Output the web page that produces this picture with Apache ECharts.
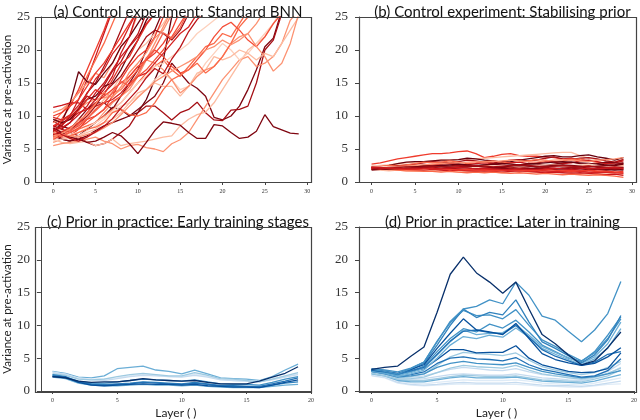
<!DOCTYPE html>
<html>
<head>
<meta charset="utf-8">
<script src="https://cdn.jsdelivr.net/npm/echarts@6/dist/echarts.min.js"></script>
<style>
  html, body { margin: 0; padding: 0; background: #fff; }
  #chart { width: 640px; height: 420px; }
</style>
</head>
<body>
<div id="chart"></div>
<script>
// tick labels
var ticksLong = [0, 5, 10, 15, 20, 25, 30];
var ticksShort = [0, 5, 10, 15, 20];
var ticksY = [0, 5, 10, 15, 20, 25];

var titles = [
    '(a) Control experiment: Standard BNN',
    '(b) Control experiment: Stabilising prior',
    '(c) Prior in practice: Early training stages',
    '(d) Prior in practice: Later in training'
];

// (a) standard BNN, one list per run, layer 0.. (stops once off the top)
var a01 = [8.0,9.5,11.5,14.0,17.0,20.0,23.0,26.5];
var a02 = [7.5,8.5,10.0,12.5,15.5,19.0,22.5,26.0];
var a03 = [9.0,10.5,12.0,13.5,16.0,18.5,21.0,24.0,27.0];
var a04 = [7.0,8.0,9.0,11.0,13.5,15.0,17.5,20.0,23.0,26.0];
var a05 = [10.5,11.0,12.0,13.5,15.0,16.5,15.8,18.0,20.5,22.0,25.5];
var a06 = [7.5,9.0,12.0,16.7,15.2,14.8,16.5,18.0,20.5,22.0,24.0,26.0];
var a07 = [11.3,11.6,12.0,12.0,11.0,12.5,14.0,16.0,19.5,22.0,26.0];
var a08 = [9.2,8.5,8.0,9.5,11.0,12.0,12.0,11.0,13.0,15.0,17.0,20.0,23.0,26.0];
var a09 = [8.0,7.5,8.0,9.0,10.0,11.0,12.5,14.0,16.0,18.0,20.0,21.0,22.5,24.0,26.0];
var a10 = [7.0,6.8,7.0,8.0,9.5,10.0,11.0,13.0,15.5,17.5,19.0,20.0,22.0,25.0,27.0];
var a11 = [6.0,6.5,6.8,7.5,8.0,9.0,10.5,12.0,13.0,14.0,16.0,18.5,21.0,23.5,26.0];
var a12 = [7.5,6.5,6.2,7.0,8.0,9.0,10.0,11.3,11.0,10.0,10.5,12.5,15.5,18.5,25.0,27.0];
var a13 = [7.0,6.5,6.2,6.5,7.0,7.8,8.5,9.0,9.5,10.0,11.0,12.0,13.0,15.0,18.0,16.5,15.0,14.2,13.0,9.8,9.4,10.0,11.5,14.0,17.0,20.5,21.8,26.0];
var a14 = [8.5,8.0,7.5,7.0,6.0,5.5,5.8,6.5,7.5,8.5,10.5,11.5,11.5,10.5,9.4,10.5,11.0,12.1,10.5,9.4,9.3,10.9,11.0,11.5,15.0,20.0,21.5,25.5];
var a15 = [6.5,6.0,5.8,6.0,6.2,5.5,5.8,6.5,5.5,5.8,6.0,6.2,6.5,6.8,7.0,8.5,9.5,10.2,10.6,12.0,14.0,16.0,18.0,20.0,21.0,22.0,24.0,26.0];
var a16 = [5.5,5.8,6.0,6.2,6.5,6.8,6.2,5.8,5.0,5.5,5.7,5.2,5.0,4.6,5.8,6.4,7.5,9.5,11.5,13.5,15.5,17.0,18.5,19.0,17.5,18.0,19.0,21.0,24.5,26.0];
var a17 = [7.8,7.0,7.5,8.0,8.5,9.0,10.0,11.0,12.0,13.5,15.0,16.5,17.5,18.5,17.0,16.0,17.5,19.0,20.5,21.0,22.5,22.0,24.0,26.0];
var a18 = [8.2,7.8,7.2,7.5,8.2,9.0,9.8,10.5,11.5,12.0,13.0,14.0,15.5,16.5,15.5,14.0,14.5,16.0,18.0,19.5,21.0,20.0,18.5,19.5,21.0,22.5,24.0,26.0];
var a19 = [6.8,7.2,7.8,8.5,9.5,11.0,12.0,13.5,14.0,15.5,17.0,18.5,20.0,19.0,17.5,16.5,17.0,18.5,20.0,22.0,23.5,24.2,23.0,21.5,20.5,22.0,24.0,25.5];
var a20 = [7.5,7.0,6.5,7.0,7.5,8.0,9.0,9.5,10.5,12.0,13.5,14.0,15.0,14.5,14.5,13.0,14.5,16.5,17.0,19.0,18.5,19.0,20.0,19.5,18.5,19.5,19.0,21.0,23.0,25.0];
var a21 = [9.0,9.5,10.0,11.0,12.0,12.5,12.8,13.0,14.0,16.0,17.5,18.5,18.0,17.0,15.5,13.5,14.5,16.0,17.0,17.5,19.0,21.0,22.0,22.5,20.5,19.0,16.8,18.0,21.0,25.5];
var a22 = [8.5,8.8,9.5,10.5,11.0,11.5,12.0,12.5,13.5,15.0,16.0,16.5,18.0,19.5,21.0,22.5,23.5,25.5];
var a23 = [7.2,7.6,8.3,9.0,10.5,12.0,13.0,14.0,15.0,16.0,17.5,18.5,19.5,21.0,23.0,26.0];
var a24 = [6.2,6.5,6.6,7.0,7.8,8.5,9.5,10.8,12.0,13.5,15.0,16.0,17.5,18.0,19.0,20.0,21.0,22.5,23.5,24.5,25.5];
var a25 = [7.8,8.2,9.0,10.2,11.5,13.5,15.0,17.0,19.0,20.5,22.0,24.0,25.5];
var a26 = [7.2,7.5,8.0,8.8,10.0,11.5,13.5,14.8,16.0,18.0,20.0,22.0,23.0,22.5,21.5,23.0,25.5];
var a27 = [6.8,7.2,7.0,7.5,8.0,8.3,9.0,10.5,11.0,10.2,10.0,10.5,12.0,14.0,15.5,16.2,17.0,18.0,16.5,17.5,19.0,21.0,23.5,25.0,26.0];
var a28 = [8.2,7.5,6.8,6.5,6.0,6.2,6.8,7.5,7.0,5.8,4.3,6.0,7.8,9.1,8.9,8.6,7.5,6.6,6.6,8.7,8.5,7.5,6.6,6.8,7.7,10.2,8.4,7.9,7.4,7.3];
var a29 = [10.0,10.5,11.5,12.5,14.5,16.5,18.0,20.0,22.0,24.0,26.0];
var a30 = [9.5,9.0,9.5,11.0,12.5,13.0,14.5,15.0,17.0,19.5,21.5,24.5,26.5];
var a31 = [6.5,7.0,7.5,8.2,9.0,10.0,11.0,12.2,13.0,14.5,16.0,17.0,18.5,20.0,22.0,24.0,26.0];
var a32 = [7.0,7.3,7.0,6.8,7.2,7.5,8.2,9.0,10.2,11.5,12.8,14.0,15.2,16.0,16.8,17.5,18.2,19.0,20.0,20.5,21.5,20.8,21.5,22.5,24.0,26.0];
var a33 = [8.5,9.2,10.0,10.8,12.5,14.0,13.2,15.5,17.8,19.0,21.5,23.8,25.5];
var a34 = [7.8,8.6,9.8,11.2,13.0,12.4,14.6,16.8,18.2,20.6,22.4,25.6];
var a35 = [6.6,7.4,8.0,9.4,10.2,11.8,13.6,12.8,14.4,16.6,18.0,19.6,21.8,23.0,25.4];
var a36 = [9.8,9.4,10.2,11.6,13.4,15.6,17.0,19.4,21.0,23.6,26.0];
var a37 = [7.4,6.9,7.6,8.8,9.6,10.8,12.0,13.6,15.2,14.6,16.4,18.8,20.2,22.6,21.8,23.4,26.0];
var a38 = [8.0,7.2,6.6,6.2,6.8,7.6,8.4,9.6,11.2,12.6,14.0,15.8,17.2,16.4,18.6,20.4,22.8,24.6,26.0];

// (b) stabilising prior
var b01 = [2.7,2.9,3.2,3.5,3.7,3.9,4.1,4.3,4.3,4.4,4.6,4.7,4.3,3.7,3.9,4.2,4.3,4.0,3.9,3.9,3.8,3.7,3.5,3.6,3.3,3.2,3.0,2.8,3.0,3.4];
var b02 = [2.4,2.5,2.6,2.8,2.9,3.0,3.1,3.2,3.3,3.3,3.4,3.5,3.5,3.6,3.7,3.8,3.9,4.0,4.1,4.2,4.3,4.4,4.5,4.5,4.0,3.6,3.4,3.2,3.1,3.0];
var b03 = [2.2,2.3,2.5,2.8,3.0,3.1,3.1,3.2,3.3,3.3,3.4,3.6,3.5,3.3,3.2,3.0,3.1,3.3,3.5,3.7,3.9,4.0,3.8,3.8,4.0,4.1,3.8,3.6,3.3,3.7];
var b04 = [2.0,2.1,2.2,2.4,2.6,2.7,2.9,3.1,3.0,2.9,3.1,3.3,3.2,3.0,2.9,3.1,3.3,3.4,3.2,3.3,3.6,3.8,3.5,3.4,3.6,3.7,3.5,3.2,3.0,3.4];
var b05 = [2.3,2.4,2.5,2.5,2.6,2.8,3.0,2.9,3.0,3.2,3.0,2.8,2.9,3.1,3.2,3.0,2.9,3.0,3.2,3.4,3.3,3.1,3.2,3.4,3.5,3.2,3.0,2.9,2.7,2.6];
var b06 = [2.1,2.2,2.2,2.3,2.4,2.5,2.5,2.6,2.7,2.8,2.7,2.6,2.8,2.9,2.8,2.7,2.9,3.0,2.8,2.9,3.1,3.0,2.8,2.9,3.2,3.3,3.1,2.8,2.9,3.2];
var b07 = [2.0,2.0,2.1,2.1,2.2,2.3,2.2,2.4,2.5,2.4,2.6,2.5,2.4,2.6,2.7,2.5,2.4,2.6,2.8,2.7,2.5,2.7,2.9,3.0,2.8,2.6,2.8,3.0,2.9,2.8];
var b08 = [2.2,2.1,2.0,2.1,2.0,2.2,2.3,2.2,2.1,2.3,2.4,2.2,2.3,2.5,2.4,2.3,2.2,2.4,2.5,2.3,2.4,2.6,2.5,2.3,2.4,2.5,2.3,2.2,2.4,2.5];
var b09 = [1.9,2.0,2.0,1.9,2.0,2.1,2.0,1.9,2.0,2.2,2.1,2.0,2.1,2.2,2.3,2.2,2.1,2.2,2.4,2.3,2.2,2.3,2.4,2.2,2.1,2.3,2.4,2.2,2.1,2.2];
var b10 = [2.1,2.0,1.9,2.0,2.1,2.0,1.9,2.0,2.1,2.0,1.9,2.1,2.0,1.9,2.0,2.1,2.0,1.9,2.0,2.1,2.0,1.9,2.0,1.9,1.8,1.9,2.0,1.9,1.8,1.9];
var b11 = [2.0,1.9,1.8,1.9,1.8,1.9,2.0,1.8,1.7,1.8,1.9,1.8,1.7,1.8,1.9,1.8,1.7,1.6,1.7,1.8,1.7,1.6,1.7,1.8,1.6,1.5,1.6,1.7,1.5,1.6];
var b12 = [1.9,1.8,1.7,1.8,1.7,1.6,1.7,1.8,1.7,1.6,1.5,1.6,1.7,1.6,1.5,1.4,1.5,1.6,1.5,1.4,1.3,1.4,1.5,1.4,1.3,1.2,1.3,1.4,1.2,1.1];
var b13 = [2.2,2.1,2.0,1.9,1.9,1.8,1.8,1.9,1.8,1.7,1.8,1.7,1.6,1.7,1.6,1.5,1.6,1.7,1.6,1.5,1.4,1.5,1.4,1.3,1.4,1.3,1.2,1.1,1.2,1.0];
var b14 = [2.0,1.9,1.9,1.8,1.7,1.7,1.6,1.6,1.5,1.6,1.5,1.4,1.5,1.4,1.5,1.4,1.3,1.4,1.3,1.2,1.3,1.2,1.1,1.2,1.1,1.0,1.1,1.0,0.9,0.7];
var b15 = [2.1,2.2,2.3,2.2,2.1,2.2,2.3,2.2,2.1,2.0,2.1,2.2,2.1,2.0,2.1,2.0,1.9,2.0,2.1,2.0,1.9,2.0,2.1,2.0,2.1,2.0,1.9,1.8,1.9,1.8];
var b16 = [2.3,2.2,2.3,2.4,2.3,2.4,2.5,2.4,2.3,2.4,2.5,2.4,2.3,2.2,2.3,2.4,2.3,2.2,2.3,2.4,2.5,2.4,2.3,2.2,2.3,2.4,2.2,2.1,2.0,2.1];
var b17 = [2.0,2.1,2.2,2.3,2.4,2.5,2.6,2.7,2.8,2.9,2.9,3.0,3.1,3.0,3.1,3.2,3.3,3.2,3.1,3.0,3.2,3.3,3.4,3.3,3.2,3.1,3.3,3.4,3.5,3.7];
var b18 = [1.9,1.9,2.0,2.1,2.2,2.3,2.4,2.4,2.5,2.6,2.7,2.6,2.5,2.6,2.7,2.8,2.7,2.6,2.7,2.8,2.9,3.0,3.1,3.0,2.9,2.8,2.7,2.6,2.5,2.7];
var b19 = [2.2,2.3,2.3,2.2,2.2,2.1,2.1,2.0,2.0,1.9,1.9,1.8,1.8,1.9,1.8,1.7,1.8,1.8,1.7,1.6,1.7,1.6,1.6,1.5,1.6,1.5,1.4,1.5,1.4,1.3];
var b20 = [2.5,2.4,2.3,2.2,2.2,2.1,2.0,2.1,2.2,2.3,2.2,2.1,2.2,2.3,2.4,2.5,2.4,2.3,2.4,2.5,2.6,2.5,2.4,2.5,2.6,2.7,2.5,2.4,2.3,2.4];
var b21 = [1.8,1.9,2.0,2.0,2.1,2.1,2.2,2.2,2.3,2.3,2.2,2.3,2.4,2.3,2.2,2.3,2.4,2.5,2.4,2.3,2.4,2.5,2.6,2.5,2.4,2.3,2.4,2.5,2.6,2.9];
var b22 = [2.1,2.0,2.1,2.0,1.9,1.9,2.0,2.1,2.0,1.9,1.8,1.9,1.8,1.8,1.7,1.8,1.9,1.8,1.7,1.8,1.9,1.8,1.7,1.6,1.7,1.8,1.7,1.6,1.5,1.4];
var b23 = [2.0,2.1,2.1,2.2,2.3,2.2,2.3,2.4,2.3,2.2,2.3,2.4,2.5,2.4,2.3,2.4,2.5,2.6,2.5,2.4,2.3,2.4,2.5,2.4,2.3,2.4,2.3,2.2,2.3,2.2];
var b24 = [2.2,2.2,2.1,2.1,2.0,2.0,2.1,2.1,2.0,2.1,2.2,2.1,2.0,2.1,2.0,1.9,1.9,2.0,1.9,1.9,2.0,2.1,2.0,1.9,2.0,2.1,2.0,2.1,2.2,2.0];

// (c) early training
var c01 = [3.0,2.7,2.1,2.0,2.3,3.4,3.6,3.8,3.2,3.0,2.6,3.2,2.6,2.0,1.9,1.8,1.6,2.2,3.2,4.1];
var c02 = [2.9,2.5,2.0,1.8,1.9,2.0,2.3,2.6,2.4,2.2,2.2,2.6,2.2,1.8,1.6,1.5,1.5,1.9,2.2,2.6];
var c03 = [2.8,2.6,1.9,1.7,1.6,1.9,2.2,2.4,2.3,2.2,2.1,2.4,2.1,1.7,1.6,1.5,1.4,1.7,2.1,2.5];
var c04 = [2.6,2.4,1.8,1.7,1.8,2.2,2.5,2.7,2.5,2.3,2.3,2.8,2.4,1.9,1.8,1.6,1.4,1.8,2.3,2.8];
var c05 = [2.4,2.1,1.5,1.2,1.2,1.4,1.6,1.8,1.7,1.6,1.5,1.7,1.4,1.1,1.0,1.0,0.9,1.3,1.8,2.2];
var c06 = [2.1,1.9,1.2,0.9,0.8,0.8,0.9,1.0,0.9,0.9,0.8,0.9,0.7,0.6,0.5,0.5,0.5,0.7,0.9,1.0];
var c07 = [2.5,2.2,1.4,1.1,1.0,1.1,1.2,1.4,1.3,1.2,1.1,1.3,1.1,0.8,0.7,0.7,0.6,0.9,1.2,1.4];
var c08 = [2.3,2.0,1.4,1.0,0.9,1.0,1.1,1.3,1.2,1.1,1.0,1.2,1.0,0.8,0.8,0.7,0.7,1.1,1.5,2.0];
var c09 = [2.2,2.1,1.3,0.9,0.8,0.9,1.0,1.1,1.0,1.0,0.9,1.0,0.8,0.7,0.6,0.6,0.5,0.9,1.3,1.7];
var c10 = [2.2,2.0,1.5,1.3,1.4,1.4,1.6,1.9,1.7,1.6,1.5,1.6,1.3,1.1,1.1,1.1,1.5,2.1,2.7,3.7];

// (d) later in training
var d01 = [2.3,2.0,1.2,0.9,0.8,0.9,1.0,1.1,1.0,1.0,1.0,1.0,0.9,0.7,0.7,0.6,0.6,0.8,1.0,1.1];
var d02 = [2.4,2.1,1.3,1.0,0.9,1.0,1.2,1.3,1.2,1.2,1.2,1.3,1.1,0.9,0.8,0.8,0.7,0.9,1.2,1.5];
var d03 = [2.5,2.2,1.5,1.2,1.1,1.3,1.5,1.7,1.6,1.6,1.6,1.7,1.5,1.2,1.1,1.0,0.9,1.2,1.6,2.0];
var d04 = [2.8,2.4,1.8,1.8,1.9,2.2,2.5,2.6,2.5,2.4,2.4,2.6,2.3,2.0,1.9,1.7,1.6,2.0,2.6,3.6];
var d05 = [2.8,2.4,1.7,1.6,1.6,1.9,2.2,2.4,2.3,2.2,2.2,2.3,2.0,1.7,1.6,1.5,1.4,1.8,2.3,3.2];
var d06 = [2.6,2.3,1.6,1.4,1.4,1.7,2.0,2.2,2.0,2.0,2.0,2.1,1.8,1.5,1.4,1.3,1.2,1.5,2.0,2.5];
var d07 = [2.9,2.5,2.0,2.1,2.3,2.8,3.3,3.6,3.4,3.2,3.1,3.4,2.9,2.5,2.3,2.1,1.9,2.3,3.0,4.2];
var d08 = [2.7,2.3,1.8,1.9,2.1,2.8,3.5,3.9,3.7,3.6,3.5,3.9,3.2,2.6,2.3,2.0,1.8,2.1,2.7,3.5];
var d09 = [3.0,2.6,2.0,2.2,2.6,3.9,5.2,5.9,5.7,5.6,5.4,5.8,4.7,3.7,3.2,2.8,2.5,2.8,3.6,4.5];
var d10 = [3.0,2.6,2.1,2.3,2.6,3.6,4.2,4.5,4.2,4.1,4.0,4.3,3.6,3.0,2.6,2.3,2.0,2.2,2.6,3.1];
var d11 = [3.0,2.7,2.2,2.5,2.9,4.2,5.0,5.2,4.9,4.8,4.6,5.1,4.0,3.3,2.9,2.5,2.1,2.3,3.1,4.9];
var d12 = [3.2,2.9,2.5,3.0,3.4,4.8,6.3,6.3,5.8,5.9,5.9,6.9,5.0,4.0,3.5,3.0,2.8,2.9,3.4,5.8];
var d13 = [3.0,2.7,2.2,2.6,3.2,5.0,7.0,8.3,8.0,8.5,8.2,9.6,8.2,6.5,5.6,4.8,4.0,4.9,6.5,9.5];
var d14 = [3.0,2.8,2.4,3.0,3.8,6.0,8.0,9.5,9.0,10.2,9.6,10.8,9.0,7.0,6.0,5.0,4.5,6.0,8.5,11.3];
var d15 = [3.1,2.8,2.4,2.8,3.5,5.5,7.5,9.3,8.6,8.8,8.9,10.1,8.5,6.8,5.9,5.1,4.2,5.2,7.2,10.5];
var d16 = [3.2,2.9,2.6,3.1,3.6,5.6,7.6,9.1,9.3,8.9,8.7,10.0,8.2,6.3,5.3,4.6,3.9,4.4,5.6,6.0];
var d17 = [3.4,3.2,2.9,3.5,4.4,7.6,10.4,12.3,11.5,11.6,11.0,12.4,10.0,7.8,6.8,5.6,4.6,5.8,8.0,11.0];
var d18 = [3.2,2.9,2.5,3.2,4.2,7.0,10.0,12.5,11.2,12.0,11.6,13.9,10.5,7.5,6.5,5.4,4.3,5.5,7.8,11.5];
var d19 = [3.2,3.0,2.7,3.3,4.0,6.5,8.8,11.0,9.3,9.0,8.6,10.3,8.0,5.7,4.8,4.3,3.9,4.2,5.2,6.6];
var d20 = [3.3,3.0,2.6,3.4,4.4,7.5,10.6,12.5,12.9,13.9,13.3,16.6,14.6,11.4,10.8,9.1,7.5,9.3,11.8,16.7];
var d21 = [3.3,3.6,3.8,5.3,6.7,12.0,17.8,20.4,18.0,16.6,14.9,16.6,12.5,8.6,7.2,5.5,4.0,4.6,6.6,9.0];

var runsA = [a01,a02,a03,a04,a05,a06,a07,a08,a09,a10,a11,a12,a13,a14,a15,a16,a17,a18,a19,
             a20,a21,a22,a23,a24,a25,a26,a27,a28,a29,a30,a31,a32,a33,a34,a35,a36,a37,a38];
var runsB = [b01,b02,b03,b04,b05,b06,b07,b08,b09,b10,b11,b12,b13,b14,b15,b16,b17,b18,b19,b20,b21,b22,b23,b24];
var runsC = [c01,c02,c03,c04,c05,c06,c07,c08,c09,c10];
var runsD = [d01,d02,d03,d04,d05,d06,d07,d08,d09,d10,d11,d12,d13,d14,d15,d16,d17,d18,d19,d20,d21];

// colours, one per run
var coloursA = ['#ef3b2c','#cb181d','#fb6a4a','#a50f15','#fc9272','#67000d','#cb181d','#7f0510',
                '#fcbba1','#ef3b2c','#fc9272','#67000d','#7f0510','#a50f15','#fcbba1','#fc9272',
                '#fb6a4a','#fdd0bc','#f44f39','#fcbba1','#fc9272','#d52221','#ef3b2c','#fdd0bc',
                '#cb181d','#a50f15','#fb6a4a','#7f0510','#ef3b2c','#67000d','#f44f39','#fc9272',
                '#e32f27','#b81419','#fc8a6a','#d52221','#f4614c','#bb1419'];
var coloursB = ['#ef3b2c','#fcbba1','#67000d','#a50f15','#fb6a4a','#cb181d','#7f0510','#fc9272',
                '#a50f15','#67000d','#ef3b2c','#fcbba1','#cb181d','#fb6a4a','#7f0510','#a50f15',
                '#fc9272','#67000d','#d52221','#fdd0bc','#7f0510','#ef3b2c','#a50f15','#cb181d'];
var coloursC = ['#6baed6','#deebf7','#c6dbef','#9ecae1','#4292c6','#6baed6','#3182bd','#2171b5','#08519c','#08306b'];
var coloursD = ['#deebf7','#c6dbef','#deebf7','#c6dbef','#9ecae1','#6baed6','#c6dbef','#9ecae1','#9ecae1','#4292c6',
                '#2171b5','#08519c','#6baed6','#4292c6','#6baed6','#2171b5','#4292c6','#3182bd','#08519c','#4292c6','#08306b'];

var serif = "'Liberation Serif', 'Times New Roman', serif";
var sans = 'Lato';
var frame = '#444';

var chart = echarts.init(document.getElementById('chart'), null, { renderer: 'canvas' });

function makeLines(runs, colours, idx) {
    return runs.map(function (run, i) {
        return {
            type: 'line',
            xAxisIndex: idx,
            yAxisIndex: idx,
            data: run.map(function (v, j) { return [j, v]; }),
            symbol: 'none',
            clip: true,
            silent: true,
            lineStyle: { width: 1.3, color: colours[i] }
        };
    });
}

function xAxisFor(idx, lo, hi, ticks, name) {
    return {
        type: 'value', gridIndex: idx, min: lo, max: hi,
        name: name || '', nameLocation: 'middle', nameGap: 16,
        nameTextStyle: { fontFamily: sans, fontSize: 12, color: '#222' },
        axisLine: { show: true, onZero: false, lineStyle: { color: frame, width: 1 } },
        axisTick: { show: true, length: 3, customValues: ticks, lineStyle: { color: frame } },
        axisLabel: { customValues: ticks, fontFamily: serif, fontSize: 6, color: '#333', margin: 6 },
        splitLine: { show: false }
    };
}

function yAxisFor(idx, name) {
    return {
        type: 'value', gridIndex: idx, min: 0, max: 25,
        name: name || '', nameLocation: 'middle', nameGap: 22,
        nameTextStyle: { fontFamily: sans, fontSize: 11.5, color: '#222' },
        axisLine: { show: true, onZero: false, lineStyle: { color: frame, width: 1 } },
        axisTick: { show: true, length: 4, customValues: ticksY, lineStyle: { color: frame } },
        axisLabel: { customValues: ticksY, fontFamily: serif, fontSize: 13, color: '#333', margin: 11 },
        splitLine: { show: false }
    };
}

var grids = [
    { left: 35, top: 17, width: 276, height: 165 },
    { left: 359, top: 17, width: 277, height: 165 },
    { left: 35, top: 227, width: 276, height: 165 },
    { left: 359, top: 227, width: 277, height: 165 }
];

var yName = 'Variance at pre-activation';

var option = {
    backgroundColor: '#fff',
    animation: false,
    title: titles.map(function (t, i) {
        var g = grids[i];
        return {
            text: t,
            left: g.left + g.width / 2,
            top: i < 2 ? 0 : 210,
            textAlign: 'center',
            textStyle: { fontFamily: sans, fontSize: 15, fontWeight: 'normal', color: '#111' }
        };
    }),
    grid: grids,
    // box round each panel, on its own layer above the lines
    graphic: grids.map(function (g) {
        return {
            type: 'rect', silent: true, zlevel: 1,
            shape: { x: g.left + 0.5, y: g.top + 0.5, width: g.width, height: g.height },
            style: { fill: 'none', stroke: frame, lineWidth: 1.2 }
        };
    }),
    xAxis: [
        xAxisFor(0, -1.45, 30.45, ticksLong),
        xAxisFor(1, -1.45, 30.45, ticksLong),
        xAxisFor(2, -0.9, 20, ticksShort, 'Layer ( )'),
        xAxisFor(3, -0.95, 20, ticksShort, 'Layer ( )')
    ],
    yAxis: [yAxisFor(0, yName), yAxisFor(1), yAxisFor(2, yName), yAxisFor(3)],
    series: [].concat(
        makeLines(runsA, coloursA, 0),
        makeLines(runsB, coloursB, 1),
        makeLines(runsC, coloursC, 2),
        makeLines(runsD, coloursD, 3)
    )
};

chart.setOption(option);
</script>
</body>
</html>
